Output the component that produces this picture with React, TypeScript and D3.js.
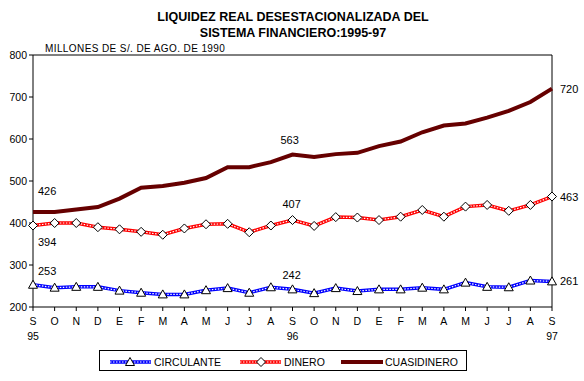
import React from "react";
import * as d3 from "d3";

const months = ["S","O","N","D","E","F","M","A","M","J","J","A","S","O","N","D","E","F","M","A","M","J","J","A","S"];
const yearLabels = [{ i: 0, t: "95" }, { i: 12, t: "96" }, { i: 24, t: "97" }];
const yTicks = [200, 300, 400, 500, 600, 700, 800];

const circulante = [253,246,248,248,239,234,230,230,240,245,234,247,242,233,245,238,242,242,246,242,258,248,247,263,261];
const dinero = [394,400,400,390,385,379,372,387,397,398,378,394,407,393,414,413,407,415,431,415,439,443,429,443,463];
const cuasidinero = [426,426,432,438,458,484,488,496,507,533,533,545,563,557,564,567,583,594,616,632,637,651,667,688,720];

const labels = [
  { s: "c", i: 0, dx: 5, dy: -14 },
  { s: "d", i: 0, dx: 5, dy: 16 },
  { s: "q", i: 0, dx: 5, dy: -21 },
  { s: "c", i: 12, dx: -10, dy: -14 },
  { s: "d", i: 12, dx: -10, dy: -16 },
  { s: "q", i: 12, dx: -12, dy: -15 },
  { s: "c", i: 24, dx: 8, dy: 0 },
  { s: "d", i: 24, dx: 8, dy: 0 },
  { s: "q", i: 24, dx: 8, dy: 0 },
];

const font = "'Liberation Sans', Arial, sans-serif";

export default function App() {
  const W = 584, H = 381;
  const x = d3.scaleLinear().domain([0, 24]).range([33, 552]);
  const y = d3.scaleLinear().domain([200, 800]).range([307, 55]);
  const line = d3.line<number>().x((_, i) => x(i)).y((v) => y(v));
  const seriesMap: Record<string, number[]> = { c: circulante, d: dinero, q: cuasidinero };

  const tri = (cx: number, cy: number) => `M${cx},${cy - 4.5}L${cx + 4.5},${cy + 3.5}L${cx - 4.5},${cy + 3.5}Z`;
  const dia = (cx: number, cy: number) => `M${cx},${cy - 4.5}L${cx + 4.5},${cy}L${cx},${cy + 4.5}L${cx - 4.5},${cy}Z`;

  const dotted = (d: string, color: string, key: string) => (
    <g key={key}>
      <path d={d} fill="none" stroke={color} strokeWidth={3.5} />
      <path d={d} fill="none" stroke="#fff" strokeWidth={1.2} strokeDasharray="1.5 1.5" />
    </g>
  );

  return (
    <svg width={W} height={H} style={{ display: "block", position: "absolute", left: 0, top: 0, background: "#fff" }}>
      <rect x={0} y={0} width={W} height={H} fill="#fff" />
      <text x={293} y={21} textAnchor="middle" fontFamily={font} fontWeight="bold" fontSize={12.5}>LIQUIDEZ REAL DESESTACIONALIZADA DEL</text>
      <text x={293} y={37} textAnchor="middle" fontFamily={font} fontWeight="bold" fontSize={12.5}>SISTEMA FINANCIERO:1995-97</text>
      <text x={45} y={52} fontFamily={font} fontSize={10} letterSpacing={0.4}>MILLONES DE S/. DE AGO. DE 1990</text>

      {/* frame */}
      <line x1={33} x2={552} y1={55} y2={55} stroke="#000" />
      <line x1={552} x2={552} y1={55} y2={307} stroke="#000" />
      <line x1={33} x2={33} y1={55} y2={307} stroke="#000" />
      <line x1={33} x2={552} y1={307} y2={307} stroke="#000" />

      {yTicks.map((t) => (
        <g key={t}>
          <line x1={29} x2={33} y1={y(t)} y2={y(t)} stroke="#000" />
          <text x={27} y={y(t) + 4} textAnchor="end" fontFamily={font} fontSize={10.5}>{t}</text>
        </g>
      ))}
      {months.map((m, i) => (
        <g key={i}>
          <line x1={x(i)} x2={x(i)} y1={307} y2={311} stroke="#000" />
          <text x={x(i)} y={325} textAnchor="middle" fontFamily={font} fontSize={10.5}>{m}</text>
        </g>
      ))}
      {yearLabels.map((l) => (
        <text key={l.t} x={x(l.i)} y={340} textAnchor="middle" fontFamily={font} fontSize={10.5}>{l.t}</text>
      ))}

      {/* lines */}
      <path d={line(cuasidinero) || ""} fill="none" stroke="#660000" strokeWidth={4} />
      {dotted(line(dinero) || "", "#ff0000", "dl")}
      {dotted(line(circulante) || "", "#0000ff", "cl")}
      {dinero.map((v, i) => (
        <path key={"dm" + i} d={dia(x(i), y(v))} fill="#fff" stroke="#000" strokeWidth={1} />
      ))}
      {circulante.map((v, i) => (
        <path key={"cm" + i} d={tri(x(i), y(v))} fill="#fff" stroke="#000" strokeWidth={1} />
      ))}

      {labels.map((l, k) => {
        const v = seriesMap[l.s][l.i];
        return (
          <text key={k} x={x(l.i) + l.dx} y={y(v) + l.dy + 4} fontFamily={font} fontSize={11}>{v}</text>
        );
      })}

      {/* legend */}
      <rect x={99.5} y={350.5} width={367} height={20} fill="#fff" stroke="#000" />
      {dotted(`M110,362L151,362`, "#0000ff", "lg1")}
      <path d={tri(130, 362)} fill="#fff" stroke="#000" />
      <text x={154} y={366} fontFamily={font} fontSize={10.5}>CIRCULANTE</text>
      {dotted(`M240,362L281,362`, "#ff0000", "lg2")}
      <path d={dia(261, 362)} fill="#fff" stroke="#000" />
      <text x={284} y={366} fontFamily={font} fontSize={10.5}>DINERO</text>
      <path d="M341,362L383,362" stroke="#660000" strokeWidth={4} />
      <text x={385} y={366} fontFamily={font} fontSize={10.5}>CUASIDINERO</text>
    </svg>
  );
}
